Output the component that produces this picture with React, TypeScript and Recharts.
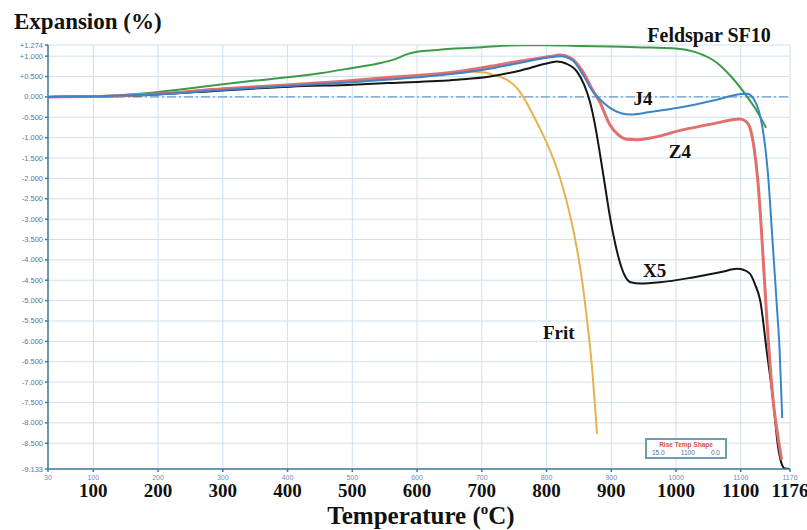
import React from "react";
import {
  LineChart,
  Line,
  XAxis,
  YAxis,
  CartesianGrid,
  ReferenceLine,
  ReferenceDot,
} from "recharts";

// ---- Data (temperature °C, expansion %) ----
const xTicks = [30, 100, 200, 300, 400, 500, 600, 700, 800, 900, 1000, 1100, 1176];
const yTicks = [
  1.274, 1, 0.5, 0, -0.5, -1, -1.5, -2, -2.5, -3, -3.5, -4, -4.5, -5, -5.5, -6,
  -6.5, -7, -7.5, -8, -8.5, -9.133,
];

const feldsparT = [30, 100, 150, 200, 250, 300, 350, 400, 450, 500, 540, 565, 585, 600, 620, 660, 700, 760, 800, 850, 900, 960, 1000, 1030, 1063, 1085, 1110, 1125, 1139];
const feldsparV = [0, 0.01, 0.05, 0.12, 0.21, 0.31, 0.4, 0.48, 0.58, 0.71, 0.82, 0.92, 1.05, 1.11, 1.14, 1.19, 1.22, 1.27, 1.27, 1.25, 1.24, 1.21, 1.19, 1.1, 0.84, 0.5, 0.0, -0.35, -0.76];

const j4T = [30, 100, 200, 300, 400, 500, 600, 700, 760, 800, 822, 840, 856, 872, 885, 898, 915, 930, 960, 1010, 1060, 1100, 1110, 1120, 1128, 1134, 1142, 1150, 1156, 1160, 1164];
const j4V = [0, 0.01, 0.07, 0.17, 0.27, 0.36, 0.48, 0.66, 0.84, 0.96, 1.0, 0.9, 0.55, 0.12, -0.1, -0.27, -0.4, -0.43, -0.37, -0.25, -0.08, 0.07, 0.08, -0.05, -0.35, -0.8, -1.9, -3.77, -5.2, -6.23, -7.88];

const z4T = [30, 100, 200, 300, 404, 500, 558, 662, 713, 760, 805, 821, 838, 856, 870, 882, 898, 910, 924, 940, 960, 1010, 1060, 1098, 1108, 1114, 1120, 1126, 1132, 1140, 1150, 1157, 1163];
const z4V = [0, 0.01, 0.08, 0.2, 0.3, 0.4, 0.48, 0.62, 0.75, 0.88, 0.99, 1.03, 0.95, 0.62, 0.2, -0.12, -0.69, -0.92, -1.04, -1.05, -1.01, -0.81, -0.65, -0.54, -0.6, -0.75, -1.2, -2.0, -3.3, -5.4, -7.46, -8.3, -8.9];

const x5T = [30, 100, 200, 300, 404, 500, 558, 662, 713, 760, 805, 816, 830, 847, 858, 867, 875, 882, 890, 898, 906, 914, 922, 930, 945, 975, 1026, 1070, 1094, 1105, 1114, 1122, 1130, 1140, 1150, 1157, 1163, 1168, 1176];
const x5V = [0, 0.01, 0.06, 0.16, 0.25, 0.3, 0.34, 0.42, 0.5, 0.65, 0.84, 0.87, 0.82, 0.62, 0.3, -0.12, -0.7, -1.35, -2.15, -2.95, -3.6, -4.1, -4.42, -4.55, -4.58, -4.55, -4.43, -4.3, -4.22, -4.25, -4.34, -4.6, -5.0, -6.23, -7.46, -8.52, -9.0, -9.12, -9.13];

const fritT = [30, 100, 200, 300, 400, 500, 600, 650, 686, 705, 717, 739, 754, 764, 779, 792, 805, 818, 830, 841, 852, 862, 870, 878];
const fritV = [0, 0.01, 0.08, 0.18, 0.28, 0.38, 0.5, 0.56, 0.62, 0.6, 0.54, 0.42, 0.22, 0.0, -0.44, -0.85, -1.3, -1.85, -2.5, -3.25, -4.2, -5.4, -6.6, -8.28];

// label anchors (temperature, expansion) for series names
const labelNames = ["Feldspar SF10", "J4", "Z4", "X5", "Frit"];
const labelT = [1051, 949, 1006, 967, 819];
const labelV = [1.355, -0.197, -1.5, -4.43, -5.94];

const toPoints = (ts: number[], vs: number[]) => ts.map((t, i) => ({ t, v: vs[i] }));

const feldspar = toPoints(feldsparT, feldsparV);
const j4 = toPoints(j4T, j4V);
const z4 = toPoints(z4T, z4V);
const x5 = toPoints(x5T, x5V);
const frit = toPoints(fritT, fritV);

const SERIF = "'Liberation Serif', 'Times New Roman', 'DejaVu Serif', serif";
const SANS = "'Liberation Sans', 'DejaVu Sans', sans-serif";

const fmtY = (v: number) => {
  if (v === 0) return "0.000";
  return (v > 0 ? "+" : "") + v.toFixed(3);
};

const XTick = (props: any) => {
  const { x, y, payload } = props;
  const val = payload.value;
  return (
    <g>
      <text x={x} y={y + 6} textAnchor="middle" fontSize={7} fontFamily={SANS} fill="#6f8db3">
        {val}
      </text>
      {val !== 30 && (
        <text
          x={x}
          y={y + 23}
          textAnchor="middle"
          fontSize={19}
          fontWeight="bold"
          fontFamily={SERIF}
          fill="#111"
        >
          {val}
        </text>
      )}
    </g>
  );
};

const YTick = (props: any) => {
  const { x, y, payload } = props;
  return (
    <text x={x} y={y + 2.5} textAnchor="end" fontSize={7.5} fontFamily={SANS} fill="#5577a6">
      {fmtY(payload.value)}
    </text>
  );
};

const seriesLabel = (name: string) => (p: any) =>
  (
    <text
      x={p.cx}
      y={p.cy}
      textAnchor="middle"
      fontSize={name.length > 4 ? 20 : 19}
      fontWeight="bold"
      fontFamily={SERIF}
      fill="#111"
    >
      {name}
    </text>
  );

export default function App() {
  return (
    <div style={{ position: "absolute", left: 0, top: 0, width: 807, height: 530, background: "#fff" }}>
      <LineChart
        width={807}
        height={530}
        margin={{ top: 45, right: 17, bottom: 41, left: 0 }}
      >
        <CartesianGrid stroke="#cfe0ee" strokeWidth={1} />
        <XAxis
          type="number"
          dataKey="t"
          domain={[30, 1176]}
          ticks={xTicks}
          interval={0}
          allowDataOverflow
          height={20}
          tickSize={3}
          tick={<XTick />}
          stroke="#3f7d98"
          strokeWidth={1.5}
        />
        <YAxis
          type="number"
          dataKey="v"
          domain={[-9.133, 1.274]}
          ticks={yTicks}
          interval={0}
          allowDataOverflow
          width={48}
          tickSize={3}
          tick={<YTick />}
          stroke="#3f7d98"
          strokeWidth={1.5}
        />
        <ReferenceLine y={0} stroke="#6d9cc4" strokeWidth={1.2} strokeDasharray="9 3 2 3" />
        <Line data={frit} dataKey="v" type="monotone" stroke="#e8b24e" strokeWidth={2} dot={false} isAnimationActive={false} />
        <Line data={feldspar} dataKey="v" type="monotone" stroke="#3c9a48" strokeWidth={2} dot={false} isAnimationActive={false} />
        <Line data={x5} dataKey="v" type="monotone" stroke="#151515" strokeWidth={2} dot={false} isAnimationActive={false} />
        <Line data={z4} dataKey="v" type="monotone" stroke="#e26f6c" strokeWidth={3} dot={false} isAnimationActive={false} />
        <Line data={j4} dataKey="v" type="monotone" stroke="#3a85c9" strokeWidth={2} dot={false} isAnimationActive={false} />
        {labelNames.map((n, i) => (
          <ReferenceDot
            key={n}
            x={labelT[i]}
            y={labelV[i]}
            r={0}
            ifOverflow="visible"
            shape={seriesLabel(n)}
          />
        ))}
      </LineChart>
      <svg
        width={807}
        height={530}
        style={{ position: "absolute", left: 0, top: 0, pointerEvents: "none" }}
      >
        <text x={14} y={29} fontFamily={SERIF} fontWeight="bold" fontSize={23} fill="#111">
          Expansion (%)
        </text>
        <text x={421} y={524} textAnchor="middle" fontFamily={SERIF} fontWeight="bold" fontSize={25} fill="#111">
          Temperature (
          <tspan fontSize={15} dy={-10}>o</tspan>
          <tspan dy={10}>C)</tspan>
        </text>
      </svg>
      <div
        style={{
          position: "absolute",
          left: 645,
          top: 438,
          width: 82,
          height: 21,
          border: "2px solid #6f9cb0",
          background: "#fff",
          fontFamily: SANS,
          fontSize: 6.5,
          lineHeight: "8px",
          padding: "1px 2px 0 2px",
          boxSizing: "border-box",
        }}
      >
        <div style={{ color: "#d0504a", fontWeight: "bold", textAlign: "center", whiteSpace: "nowrap" }}>
          Rise Temp Shape
        </div>
        <div style={{ color: "#4a6fa5", display: "flex", justifyContent: "space-between", padding: "0 3px" }}>
          <span>15.0</span>
          <span>1100</span>
          <span>0.0</span>
        </div>
      </div>
    </div>
  );
}
